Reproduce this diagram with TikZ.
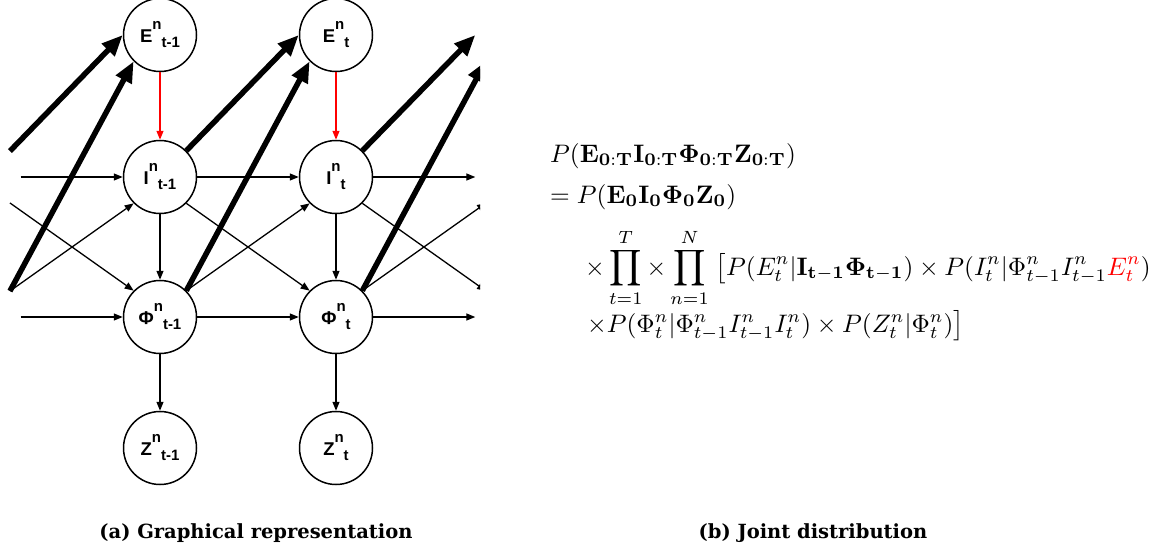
\documentclass[tikz,border=0pt]{standalone}
\usepackage{amsmath}
\usepackage{graphicx}
\usepackage[no-math]{fontspec}
\newfontfamily\nodefont{Liberation Sans}
\newfontfamily\capfont{DejaVu Serif}
\usetikzlibrary{arrows.meta}
\newcommand\varlbl[3]{{\nodefont\bfseries\fontsize{18.5}{20}\selectfont #1\raisebox{13pt}{\fontsize{15}{15}\selectfont #2}\raisebox{-5pt}{\fontsize{15}{15}\selectfont #3}}}
\newcommand\eqscale[1]{\scalebox{2.53}{#1}}
\tikzset{
  var/.style={circle, draw, line width=1.5pt, fill=white, minimum size=73pt, inner sep=0pt},
  ghost/.style={circle, minimum size=73pt, inner sep=0pt},
  conn/.style={line width=1.3pt, -{Triangle[length=9pt,width=7pt]}},
  redconn/.style={conn, red},
  heavy/.style={line width=5.5pt, -{Triangle[length=21pt,width=17pt]}},
  eqline/.style={anchor=base west, inner sep=0pt},
  caption/.style={inner sep=0pt, font=\capfont\bfseries\fontsize{19.5}{21}\selectfont}
}
\begin{document}
\begin{tikzpicture}[x=1pt,y=-1pt]
\useasboundingbox (0,0) rectangle (1166,551);
\begin{scope}
\clip (0,0) rectangle (480,551);
% hidden neighbouring time slices
\node[ghost] (Ip) at (-16,177) {};
\node[ghost] (Pp) at (-16,317) {};
\node[ghost] (En) at (512,35) {};
\node[ghost] (In) at (512,177) {};
\node[ghost] (Pn) at (512,317) {};
% visible nodes
\node[var] (Ea) at (160,35) {\varlbl{E}{n}{t-1}};
\node[var] (Ia) at (160,177) {\varlbl{I}{n}{t-1}};
\node[var] (Pa) at (160,317) {\varlbl{Φ}{n}{t-1}};
\node[var] (Za) at (160,448) {\varlbl{Z}{n}{t-1}};
\node[var] (Eb) at (336,35) {\varlbl{E}{n}{t}};
\node[var] (Ib) at (336,177) {\varlbl{I}{n}{t}};
\node[var] (Pb) at (336,317) {\varlbl{Φ}{n}{t}};
\node[var] (Zb) at (336,448) {\varlbl{Z}{n}{t}};
% horizontal
\draw[conn] (Ip.east) -- (Ia.west);
\draw[conn] (Ia.east) -- (Ib.west);
\draw[conn] (Ib.east) -- (In.west);
\draw[conn] (Pp.east) -- (Pa.west);
\draw[conn] (Pa.east) -- (Pb.west);
\draw[conn] (Pb.east) -- (Pn.west);
% crossing
\draw[conn] (Ip.south east) -- (Pa.north west);
\draw[conn] (Pp.north east) -- (Ia.south west);
\draw[conn] (Ia.south east) -- (Pb.north west);
\draw[conn] (Pa.north east) -- (Ib.south west);
\draw[conn] (Ib.south east) -- (Pn.north west);
\draw[conn] (Pb.north east) -- (In.south west);
% vertical
\draw[redconn] (Ea) -- (Ia);
\draw[redconn] (Eb) -- (Ib);
\draw[conn] (Ia) -- (Pa);
\draw[conn] (Ib) -- (Pb);
\draw[conn] (Pa) -- (Za);
\draw[conn] (Pb) -- (Zb);
% heavy
\draw[heavy] (Ip.north east) -- (Ea.west);
\draw[heavy] (Pp.north east) -- (Ea.south west);
\draw[heavy] (Ia.north east) -- (Eb.west);
\draw[heavy] (Pa.north east) -- (Eb.south west);
\draw[heavy] (Ib.north east) -- (En.west);
\draw[heavy] (Pb.north east) -- (En.south west);
\end{scope}
% equation
\node[eqline] (l1) at (550,162) {\eqscale{$P(\mathbf{E}_{\mathbf{0:T}}\mathbf{I}_{\mathbf{0:T}}\mathbf{\Phi}_{\mathbf{0:T}}\mathbf{Z}_{\mathbf{0:T}})$}};
\node[eqline] (l2) at (550,203) {\eqscale{$=P(\mathbf{E}_{\mathbf{0}}\mathbf{I}_{\mathbf{0}}\mathbf{\Phi}_{\mathbf{0}}\mathbf{Z}_{\mathbf{0}})$}};
\node[eqline] (l3) at (585,275) {\eqscale{$\displaystyle \times\prod_{t=1}^{T}\times\prod_{n=1}^{N}\;\bigl[P(E_t^n|\mathbf{I}_{\mathbf{t-1}}\mathbf{\Phi}_{\mathbf{t-1}})\times P(I_t^n|\Phi_{t-1}^nI_{t-1}^n{\color{red}E_t^n})$}};
\node[eqline] (l4) at (587,332) {\eqscale{$\times P(\Phi_t^n|\Phi_{t-1}^nI_{t-1}^nI_t^n)\times P(Z_t^n|\Phi_t^n)\bigr]$}};
% captions
\node[caption] (capa) at (256,533) {(a) Graphical representation};
\node[caption] (capb) at (813,533) {(b) Joint distribution};
\end{tikzpicture}
\end{document}
